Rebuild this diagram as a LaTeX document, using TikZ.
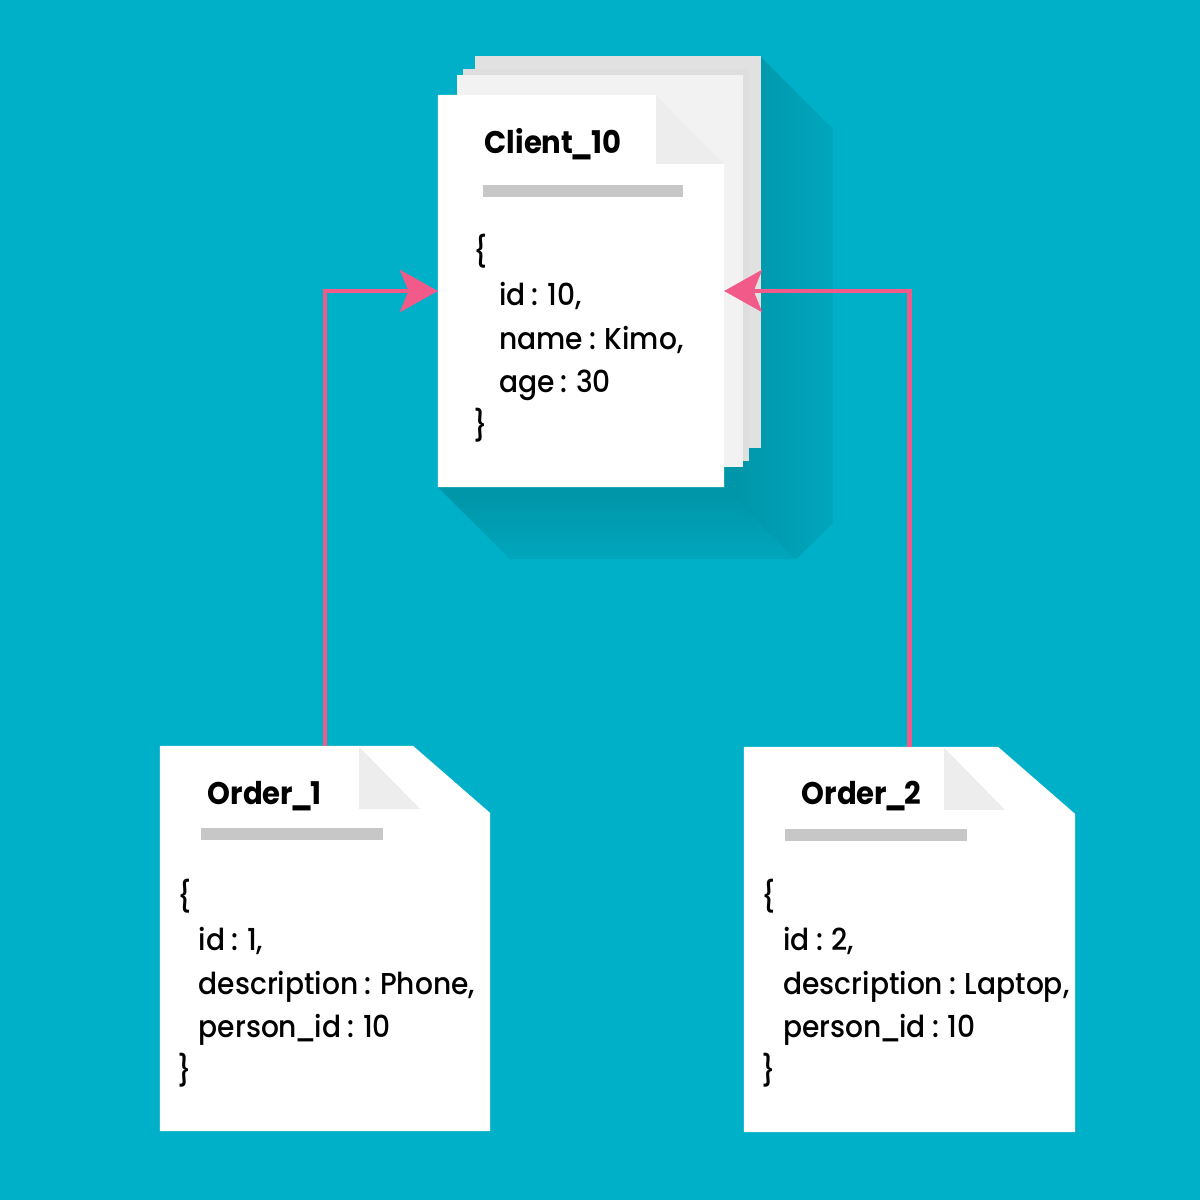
\documentclass[tikz,border=0pt]{standalone}
\usepackage{fontspec}
\setmainfont{Poppins}[UprightFont=* Medium, BoldFont=* Bold, WordSpace=0.85, FakeStretch=0.93]
\usetikzlibrary{calc,arrows.meta,fadings,positioning}

\definecolor{bgcyan}{HTML}{00B0C8}
\definecolor{shadowcyan}{HTML}{0096A9}
\definecolor{linkpink}{HTML}{F25A8A}
\definecolor{backgray}{HTML}{E1E1E1}
\definecolor{midgray}{HTML}{DEDEDE}
\definecolor{sheetgray}{HTML}{F2F2F2}
\definecolor{foldgray}{HTML}{EDEDED}
\definecolor{bargray}{HTML}{C8C7C8}

\newcommand{\us}{\kern-0.7pt\_\kern-0.7pt}

\begin{tikzfadingfrompicture}[name=sidefade]
  \fill[transparent!0] (-50bp,-50bp) rectangle (-20bp,50bp);
  \shade[left color=transparent!0, right color=transparent!100] (-20bp,-50bp) rectangle (50bp,50bp);
\end{tikzfadingfrompicture}
\begin{tikzfadingfrompicture}[name=bottomfade]
  \fill[transparent!0] (-50bp,20bp) rectangle (50bp,50bp);
  \shade[top color=transparent!0, bottom color=transparent!100] (-50bp,-50bp) rectangle (50bp,20bp);
\end{tikzfadingfrompicture}

\begin{document}
\begin{tikzpicture}[x=0.01cm, y=-0.01cm,
    sheet/.style={inner sep=0pt, outer sep=0pt},
    title/.style={font=\bfseries\fontsize{8.9}{11}\selectfont, anchor=base west, inner sep=0pt},
    body/.style={font=\fontsize{8.6}{12.38}\selectfont, align=left, anchor=base west, inner sep=0pt},
    link/.style={draw=linkpink, line width=1.15pt, -{Stealth[length=10.8pt, width=12pt, inset=2.4pt]}}]
    \fill[bgcyan] (0,0) rectangle (1200,1200);

    % the three documents
    \node[sheet, minimum width=2.86cm, minimum height=3.92cm] (client) at (581,291) {};
    \node[sheet, minimum width=3.30cm, minimum height=3.85cm] (order1) at (325,938.5) {};
    \node[sheet, minimum width=3.31cm, minimum height=3.85cm] (order2) at (909.5,939.5) {};

    % long shadow of the client stack
    \fill[shadowcyan, path fading=sidefade] (724,100) -- (760,56) -- (833,129) -- (833,523)
      -- (796,559) -- (client.south east) -- cycle;
    \fill[shadowcyan, path fading=bottomfade] (client.south west) -- (510,559) -- (796,559)
      -- (client.south east) -- cycle;

    % sheets behind the client
    \foreach \dx/\dy/\col in {37/-39/backgray, 25/-26/midgray, 19/-20/sheetgray}
    \fill[\col] ($(client.south west)+(\dx,\dy)$) rectangle ($(client.north east)+(\dx,\dy)$);

    \fill[white] (client.north west) -- ($(client.north east)+(-68,0)$) -- ($(client.north east)+(0,69)$)
      -- (client.south east) -- (client.south west) -- cycle;
    \fill[foldgray] ($(client.north east)+(-68,0)$) -- ($(client.north east)+(-68,69)$) -- ($(client.north east)+(0,69)$) -- cycle;
    \fill[bargray] ($(client.north west)+(45,90)$) rectangle ++(200,12);

    \foreach \o in {order1, order2} {
      \fill[white] (\o.north west) -- ($(\o.north east)+(-77,0)$) -- ($(\o.north east)+(0,67)$)
        -- (\o.south east) -- (\o.south west) -- cycle;
      \fill[foldgray] ($(\o.north east)+(-131,1)$) -- ($(\o.north east)+(-131,63)$) -- ($(\o.north east)+(-70,63)$) -- cycle;
      \fill[bargray] ($(\o.north west)+(41,82)$) rectangle ++(182,12);
    }

    % texts
    \node[title] (clienttitle) at (484,153) {Client\us10};
    \node[body] (clientbody) at (473,436.5) {\{\\\hspace*{7.2pt}id : 10,\\\hspace*{7.2pt}name : Kimo,\\\hspace*{7.2pt}age : 30\\\}};

    \node[title] (order1title) at (207,804) {Order\us1};
    \node[body] (order1body) at (177,1081.5) {\{\\\hspace*{6pt}id : 1,\\\hspace*{6pt}description : Phone,\\\hspace*{6pt}person\us id : 10\\\}};

    \node[title] (order2title) at (801,804) {Order\us2};
    \node[body] (order2body) at (761,1081.5) {\{\\\hspace*{6.2pt}id : 2,\\\hspace*{6.2pt}description : Laptop,\\\hspace*{6.2pt}person\us id : 10\\\}};

    % references to the client
    \draw[link] (order1.north) |- (client.west);
    \draw[link] (order2.north) |- (client.east);
\end{tikzpicture}
\end{document}
